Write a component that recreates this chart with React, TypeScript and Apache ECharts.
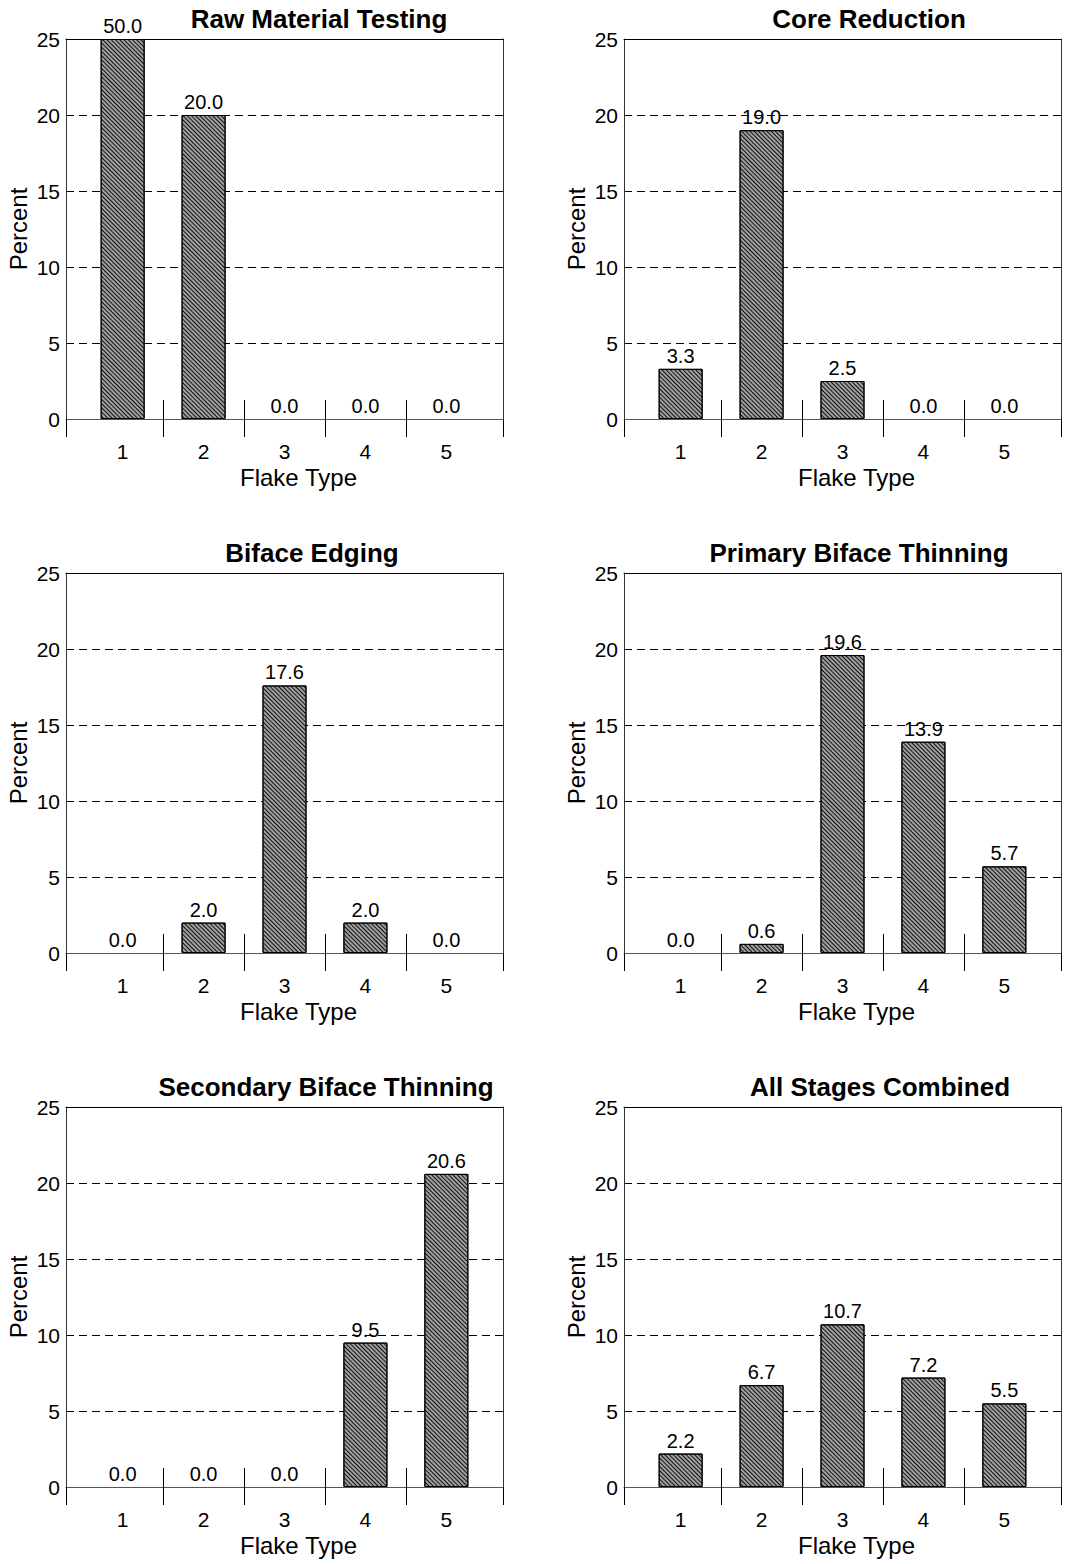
import React, { useEffect, useRef } from "react";
import * as echarts from "echarts";

const categories = ["1", "2", "3", "4", "5"];
const panelTitles = [
  "Raw Material Testing",
  "Core Reduction",
  "Biface Edging",
  "Primary Biface Thinning",
  "Secondary Biface Thinning",
  "All Stages Combined",
];
const rawMaterialTesting = [50.0, 20.0, 0.0, 0.0, 0.0];
const coreReduction = [3.3, 19.0, 2.5, 0.0, 0.0];
const bifaceEdging = [0.0, 2.0, 17.6, 2.0, 0.0];
const primaryBifaceThinning = [0.0, 0.6, 19.6, 13.9, 5.7];
const secondaryBifaceThinning = [0.0, 0.0, 0.0, 9.5, 20.6];
const allStagesCombined = [2.2, 6.7, 10.7, 7.2, 5.5];
const panelValues = [
  rawMaterialTesting,
  coreReduction,
  bifaceEdging,
  primaryBifaceThinning,
  secondaryBifaceThinning,
  allStagesCombined,
];
const yMin = 0;
const yMax = 25;
const yStep = 5;
const xTitle = "Flake Type";
const yTitle = "Percent";

const FONT = "'Liberation Sans', Arial, Helvetica, sans-serif";

// layout
const colLeft = [66, 624];
const rowTop = [39, 573, 1107];
const plotW = 437;
const plotH = 380;
const titleCenters = [319, 869, 312, 859, 326, 880];
const xNameOffset = 14;

export default function App() {
  const ref = useRef<HTMLDivElement>(null);
  useEffect(() => {
    if (!ref.current) return;
    const chart = echarts.init(ref.current, null, { renderer: "svg" });
    const grids: any[] = [];
    const xAxes: any[] = [];
    const yAxes: any[] = [];
    const series: any[] = [];
    const graphics: any[] = [];
    const xCenters = categories.map((_, i) => i + 1);
    const bounds = categories.slice(1).map((_, i) => i + 1.5);
    const xMin = 0.3;
    const xMax = categories.length + 0.7;
    const nSplit = (yMax - yMin) / yStep + 1;
    const splitColors = Array.from({ length: nSplit }, (_, i) =>
      i === 0 || i === nSplit - 1 ? "rgba(0,0,0,0)" : "#000"
    );

    panelValues.forEach((vals, p) => {
      const col = p % 2;
      const row = Math.floor(p / 2);
      const left = colLeft[col];
      const top = rowTop[row];
      grids.push({
        left,
        top,
        width: plotW,
        height: plotH,
        show: false,
        containLabel: false,
      });
      // main x axis: zero line, inside ticks at category boundaries, labels at centers
      xAxes.push({
        type: "value",
        gridIndex: p,
        position: "bottom",
        min: xMin,
        max: xMax,
        axisLine: { show: true, onZero: false, lineStyle: { color: "#555", width: 1 } },
        axisTick: {
          show: true,
          inside: true,
          length: 19,
          customValues: bounds,
          lineStyle: { color: "#000", width: 1 },
        },
        axisLabel: {
          show: true,
          customValues: xCenters,
          formatter: (v: number) => categories[Math.round(v) - 1] ?? "",
          fontSize: 21,
          color: "#000",
          fontFamily: FONT,
          margin: 22,
        },
        splitLine: { show: false },
      });
      // secondary x axis: outside ticks
      xAxes.push({
        type: "value",
        gridIndex: p,
        position: "bottom",
        min: xMin,
        max: xMax,
        axisLine: { show: false },
        axisTick: {
          show: true,
          inside: false,
          length: 18,
          customValues: [xMin, ...bounds, xMax],
          lineStyle: { color: "#000", width: 1 },
        },
        axisLabel: { show: false },
        splitLine: { show: false },
      });
      // top frame line
      xAxes.push({
        type: "value",
        gridIndex: p,
        position: "top",
        min: xMin,
        max: xMax,
        axisLine: { show: true, onZero: false, lineStyle: { color: "#000", width: 1 } },
        axisTick: { show: false },
        axisLabel: { show: false },
        splitLine: { show: false },
      });
      yAxes.push({
        type: "value",
        gridIndex: p,
        position: "left",
        min: yMin,
        max: yMax,
        interval: yStep,
        name: yTitle,
        nameLocation: "middle",
        nameGap: 36,
        nameTextStyle: { fontSize: 24, color: "#000", fontFamily: FONT },
        axisLine: { show: true, onZero: false, lineStyle: { color: "#333", width: 1 } },
        axisTick: { show: false },
        axisLabel: { fontSize: 21, color: "#000", fontFamily: FONT, margin: 6 },
        splitLine: {
          show: true,
          lineStyle: { color: splitColors, width: 1, type: [8, 5] },
        },
      });
      // right frame line
      yAxes.push({
        type: "value",
        gridIndex: p,
        position: "right",
        min: yMin,
        max: yMax,
        axisLine: { show: true, onZero: false, lineStyle: { color: "#333", width: 1 } },
        axisTick: { show: false },
        axisLabel: { show: false },
        splitLine: { show: false },
      });
      series.push({
        type: "bar",
        xAxisIndex: p * 3,
        yAxisIndex: p * 2,
        barWidth: 44,
        data: vals.map((v, i) => ({
          value: [xCenters[i], Math.min(v, yMax)],
          itemStyle:
            v === 0
              ? { borderWidth: 0, borderColor: "rgba(0,0,0,0)", color: "rgba(0,0,0,0)" }
              : undefined,
        })),
        itemStyle: {
          color: "#a0a0a0",
          borderColor: "#000",
          borderWidth: 1,
          decal: {
            symbol: "rect",
            symbolSize: 1,
            color: "#111",
            dashArrayX: [1, 0],
            dashArrayY: [1, 1.2],
            rotation: Math.PI / 4,
          },
        },
        label: {
          show: true,
          position: "top",
          distance: 3,
          fontSize: 20,
          color: "#000",
          fontFamily: FONT,
          formatter: (prm: any) => vals[prm.dataIndex].toFixed(1),
        },
        emphasis: { disabled: true },
      });
      graphics.push({
        type: "text",
        x: titleCenters[p],
        y: top - 20,
        style: {
          text: panelTitles[p],
          fontSize: 26,
          fontWeight: "bold",
          fontFamily: FONT,
          fill: "#000",
          textAlign: "center",
          textVerticalAlign: "middle",
        },
      });
      graphics.push({
        type: "text",
        x: left + plotW / 2 + xNameOffset,
        y: top + plotH + 58,
        style: {
          text: xTitle,
          fontSize: 24,
          fontFamily: FONT,
          fill: "#000",
          textAlign: "center",
          textVerticalAlign: "middle",
        },
      });
    });

    chart.setOption({
      animation: false,
      backgroundColor: "#fff",
      grid: grids,
      xAxis: xAxes,
      yAxis: yAxes,
      series,
      graphic: graphics,
    });
    return () => chart.dispose();
  }, []);
  return (
    <div
      ref={ref}
      style={{ position: "absolute", left: 0, top: 0, width: 1065, height: 1564 }}
    />
  );
}
